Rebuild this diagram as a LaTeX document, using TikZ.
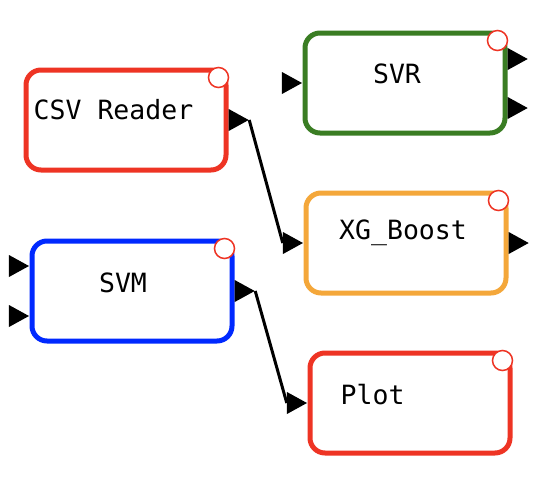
\documentclass[tikz,border=0pt]{standalone}
\usepackage{fontspec}
\newfontfamily\blkfont{DejaVu Sans Mono}
\usetikzlibrary{shapes.geometric,positioning}
\definecolor{blkred}{RGB}{238,52,36}
\definecolor{blkgreen}{RGB}{58,125,35}
\definecolor{blkorange}{RGB}{244,167,58}
\definecolor{blkblue}{RGB}{0,41,255}
\tikzset{
  blk/.style = {rectangle, rounded corners=15pt, line width=5pt, fill=white,
    minimum width=200pt, minimum height=100pt, inner sep=0pt},
  blk_r/.style = {blk, draw=blkred},% bloc rouge
  blk_g/.style = {blk, draw=blkgreen},% bloc vert
  blk_o/.style = {blk, draw=blkorange},% bloc orange
  blk_b/.style = {blk, draw=blkblue},% bloc bleu
  blk_t/.style = {inner sep=0pt, text=black,
    font=\blkfont\fontsize{26.5}{32}\selectfont},% texte du bloc
  blk_c/.style = {circle, draw=blkred, fill=white, line width=1.5pt,
    minimum size=20pt, inner sep=0pt},% rond en haut a droite
  prt/.style = {isosceles triangle, isosceles triangle stretches,
    fill=black, inner sep=0pt, minimum width=22pt, minimum height=20pt},
  prt_i/.style = {prt, anchor=apex},% entree
  prt_o/.style = {prt, anchor=lower side}% sortie
}

\begin{document}
\begin{tikzpicture}[x=1pt, y=-1pt]
\useasboundingbox (0,0) rectangle (540,490);
% blocs
\node [blk_r] (csv) at (126,120) {};
\node [blk_g] (svr) at (405,83) {};
\node [blk_o] (xgb) at (406,243) {};
\node [blk_b] (svm) at (132,291) {};
\node [blk_r] (plot) at (410,403) {};
% textes
\node [blk_t, anchor=west] (csv_t) at ([xshift=10pt,yshift=10pt]csv.west) {CSV Reader};
\node [blk_t] (svr_t) at ([xshift=-8pt,yshift=9pt]svr.center) {SVR};
\node [blk_t] (xgb_t) at ([xshift=-3pt,yshift=10pt]xgb.center) {XG\_Boost};
\node [blk_t] (svm_t) at ([xshift=-9pt,yshift=8pt]svm.center) {SVM};
\node [blk_t, anchor=west] (plot_t) at ([xshift=33pt,yshift=8pt]plot.west) {Plot};
% ronds
\node [blk_c] (csv_c) at ([xshift=-10pt,yshift=-10pt]csv.north east) {};
\node [blk_c] (svr_c) at ([xshift=-10pt,yshift=-10pt]svr.north east) {};
\node [blk_c] (xgb_c) at ([xshift=-10pt,yshift=-10pt]xgb.north east) {};
\node [blk_c] (svm_c) at ([xshift=-10pt,yshift=-10pt]svm.north east) {};
\node [blk_c] (plot_c) at ([xshift=-10pt,yshift=-10pt]plot.north east) {};
% ports
\node [prt_o] (csv_o) at (csv.east) {};
\node [prt_i] (svr_i) at (svr.west) {};
\node [prt_o] (svr_o1) at ([yshift=24pt]svr.east) {};
\node [prt_o] (svr_o2) at ([yshift=-25pt]svr.east) {};
\node [prt_i] (xgb_i) at (xgb.west) {};
\node [prt_o] (xgb_o) at (xgb.east) {};
\node [prt_i] (svm_i1) at ([yshift=25pt]svm.west) {};
\node [prt_i] (svm_i2) at ([yshift=-25pt]svm.west) {};
\node [prt_o] (svm_o) at (svm.east) {};
\node [prt_i] (plot_i) at (plot.west) {};
% liens
\draw [line width=3pt] (csv_o.apex) -- (xgb_i.lower side);
\draw [line width=3pt] (svm_o.apex) -- (plot_i.lower side);
\end{tikzpicture}
\end{document}
